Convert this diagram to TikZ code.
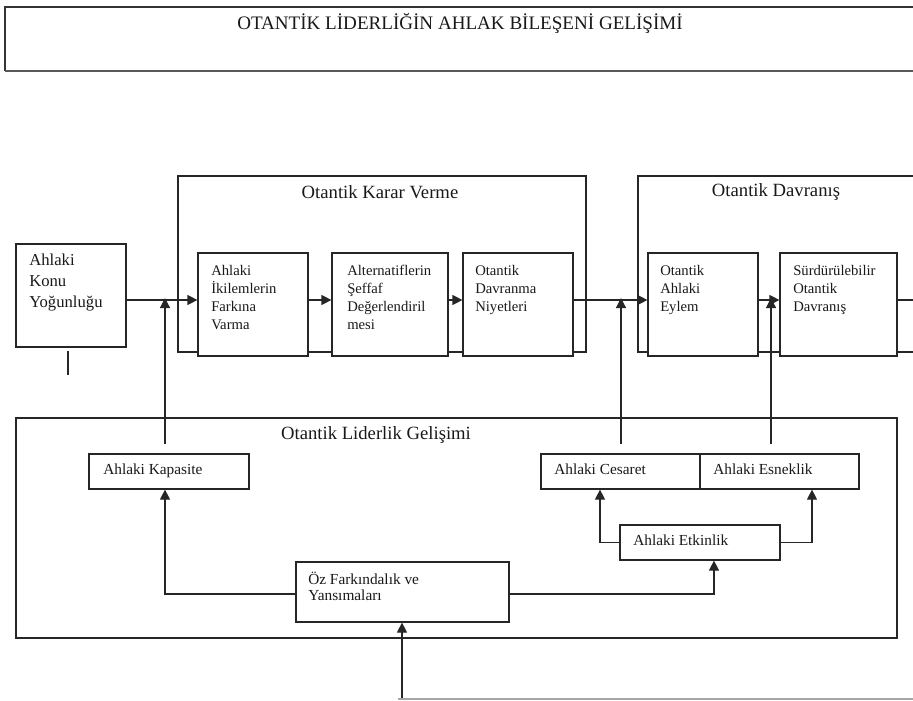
\documentclass[tikz,border=0pt]{standalone}
\usepackage{fontspec}
\setmainfont{Liberation Serif}
\usetikzlibrary{arrows.meta,fit,calc}
\begin{document}
\begin{tikzpicture}[x=0.75pt,y=-0.75pt,
  ln/.style={line width=0.9pt,draw=black!85},
  boxn/.style={ln,fill=white,inner sep=0pt},
  arr/.style={ln,-{Triangle[length=7.5pt,width=7.5pt]}},
  txt/.style={inner sep=0pt,anchor=north west,align=left,text=black!90},
  big/.style={font=\fontsize{12.5pt}{15.75pt}\selectfont},
  mid/.style={font=\fontsize{11pt}{13.5pt}\selectfont},
  sml/.style={font=\fontsize{11.5pt}{12pt}\selectfont},
  ttl/.style={inner sep=0pt,text=black!90,font=\fontsize{14pt}{16pt}\selectfont}]
\useasboundingbox (0,0) rectangle (913,700);
\clip (0,0) rectangle (913,700);
\fill[white] (0,0) rectangle (913,700);

% title box
\draw[line width=1.1pt,draw=black!80] (925,7) -- (5,7) -- (5,71);
\draw[line width=1.6pt,draw=black!65] (5,71) -- (925,71);
\node[ttl,font=\fontsize{14.3pt}{16pt}\selectfont] (title) at (460,23) {OTANTİK LİDERLİĞİN AHLAK BİLEŞENİ GELİŞİMİ};

% frames
\node[ln,inner sep=0pt,fit={(178,176) (586,352)}] (karar) {};
\draw[ln] (925,176) -- (638,176) -- (638,352) -- (925,352);
\node[ttl] (kararT) at (380,192) {Otantik Karar Verme};
\node[ttl] (davrT) at (776,192) {Otantik Davranış};
\node[ln,inner sep=0pt,fit={(16,418) (897,638)}] (lider) {};
\node[ttl] (liderT) at (376,435) {Otantik Liderlik Gelişimi};

% top row boxes
\node[boxn,fit={(16,244) (126,347)}] (konu) {};
\node[txt,big] (konuT) at (29,254) {Ahlaki\\Konu\\Yoğunluğu};
\node[boxn,fit={(198,253) (308,356)}] (b1) {};
\node[txt,mid] (b1T) at (211,265) {Ahlaki\\İkilemlerin\\Farkına\\Varma};
\node[boxn,fit={(332,253) (448,356)}] (b2) {};
\node[txt,mid] (b2T) at (347,265) {Alternatiflerin\\Şeffaf\\Değerlendiril\\mesi};
\node[boxn,fit={(463,253) (573,356)}] (b3) {};
\node[txt,mid] (b3T) at (475,265) {Otantik\\Davranma\\Niyetleri};
\node[boxn,fit={(648,253) (758,356)}] (b4) {};
\node[txt,mid] (b4T) at (660,265) {Otantik\\Ahlaki\\Eylem};
\node[boxn,fit={(780,253) (897,356)}] (b5) {};
\node[txt,mid] (b5T) at (793,265) {Sürdürülebilir\\Otantik\\Davranış};

% lower boxes
\node[boxn,fit={(89,454) (249,489)}] (kap) {};
\node[txt,sml] (kapT) at (103,464) {Ahlaki Kapasite};
\node[boxn,fit={(541,454) (700,489)}] (ces) {};
\node[txt,sml] (cesT) at (554,464) {Ahlaki Cesaret};
\node[boxn,fit={(700,454) (859,489)}] (esn) {};
\node[txt,sml] (esnT) at (713,464) {Ahlaki Esneklik};
\node[boxn,fit={(620,525) (780,560)}] (etk) {};
\node[txt,sml] (etkT) at (633,535) {Ahlaki Etkinlik};
\node[boxn,fit={(296,562) (509,622)}] (oz) {};
\node[txt,sml] (ozT) at (308,572) {Öz Farkındalık ve\\Yansımaları};

% helper coordinates
\coordinate (row) at (0,300);
\coordinate (rowv) at (0,298);
\coordinate (xa) at (165,0);
\coordinate (xc) at (621,0);
\coordinate (xe) at (771,0);
\coordinate (ozy) at (0,594);
\coordinate (xoe) at (714,0);
\coordinate (xcl) at (600,0);
\coordinate (xer) at (812,0);
\coordinate (kdown) at (68,375);
\coordinate (rightedge) at (925,300);
\coordinate (bottom) at (402,698);
\coordinate (gl) at (398,699);
\coordinate (gr) at (925,699);

% top row connectors
\draw[arr] (konu.east |- row) -- (b1.west |- row);
\draw[arr] (b1.east |- row) -- (b2.west |- row);
\draw[arr] (b2.east |- row) -- (b3.west |- row);
\draw[arr] (b3.east |- row) -- (b4.west |- row);
\draw[arr] (b4.east |- row) -- (b5.west |- row);
\draw[ln] (b5.east |- row) -- (rightedge);
\draw[ln] ($(konu.south -| kdown)+(0,3)$) -- (kdown);

% vertical feeds into top row
\draw[arr] ($(kap.north -| xa)+(0,-9)$) -- (xa |- rowv);
\draw[arr] ($(ces.north -| xc)+(0,-9)$) -- (xc |- rowv);
\draw[arr] ($(esn.north -| xe)+(0,-9)$) -- (xe |- rowv);

% lower connectors
\draw[arr] (oz.west |- ozy) -- (xa |- ozy) -- (kap.south -| xa);
\draw[arr] (oz.east |- ozy) -- (xoe |- ozy) -- (etk.south -| xoe);
\draw[arr] (etk.west) -- (xcl |- etk.west) -- (ces.south -| xcl);
\draw[arr] (etk.east) -- (xer |- etk.east) -- (esn.south -| xer);
\draw[arr] (bottom) -- (oz.south -| bottom);
\draw[line width=0.8pt,draw=black!35] (gl) -- (gr);
\end{tikzpicture}
\end{document}
